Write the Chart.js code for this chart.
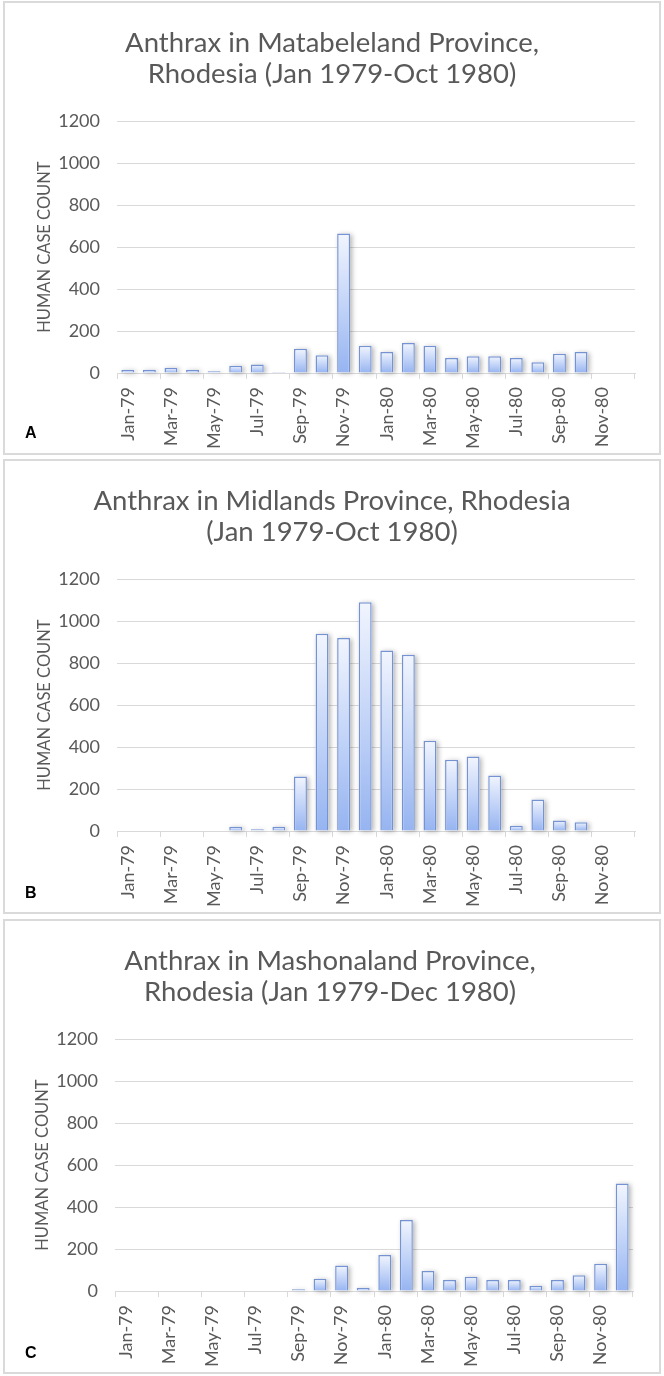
<!DOCTYPE html>
<html>
<head>
<meta charset="utf-8">
<script src="https://cdn.jsdelivr.net/npm/chart.js@4.4.0/dist/chart.umd.min.js"></script>
<style>
  html, body { margin: 0; padding: 0; background: #fff; }
  body { width: 664px; height: 1376px; position: relative; overflow: hidden; }
  .box { position: absolute; left: 3px; width: 658px; border: 2px solid #dadada; box-sizing: border-box; }
  .cw { position: absolute; width: 664px; height: 456px; }
  .lbl { position: absolute; left: 25px; font: bold 16px "Liberation Sans", Arial, sans-serif; color: #000; line-height: 18px; }
</style>
</head>
<body>
<div class="box" style="top:1px;height:454px;"></div>
<div class="box" style="top:459px;height:455px;"></div>
<div class="box" style="top:919px;height:455px;"></div>

<div class="cw" style="left:0;top:0;"><canvas id="chartA" width="664" height="456"></canvas></div>
<div class="cw" style="left:0;top:458px;"><canvas id="chartB" width="664" height="456"></canvas></div>
<div class="cw" style="left:-2px;top:918px;"><canvas id="chartC" width="664" height="456"></canvas></div>

<div class="lbl" style="top:424px;">A</div>
<div class="lbl" style="top:884px;">B</div>
<div class="lbl" style="top:1344px;">C</div>

<script>
// ---------- data ----------
const months = ['Jan-79','Feb-79','Mar-79','Apr-79','May-79','Jun-79','Jul-79','Aug-79','Sep-79','Oct-79','Nov-79','Dec-79',
                'Jan-80','Feb-80','Mar-80','Apr-80','May-80','Jun-80','Jul-80','Aug-80','Sep-80','Oct-80','Nov-80','Dec-80'];

const matabeleland = [15, 15, 25, 15, 8, 35, 40, 5, 115, 85, 665, 130,
                      100, 143, 130, 72, 80, 80, 72, 51, 92, 100, null, null];

const midlands = [0, 0, 0, 0, 0, 20, 8, 20, 260, 940, 920, 1090,
                  860, 840, 430, 340, 355, 265, 25, 150, 50, 42, null, null];

const mashonaland = [0, 0, 0, 0, 0, 0, 0, 0, 8, 58, 122, 15,
                     172, 338, 95, 52, 68, 52, 52, 25, 52, 75, 130, 512];

const titleA = ['Anthrax in Matabeleland Province,', 'Rhodesia (Jan 1979-Oct 1980)'];
const titleB = ['Anthrax in Midlands Province, Rhodesia', '(Jan 1979-Oct 1980)'];
const titleC = ['Anthrax in Mashonaland Province,', 'Rhodesia (Jan 1979-Dec 1980)'];

const yAxisTitle = 'HUMAN CASE COUNT';
const yMin = 0, yMax = 1200, yStep = 200;

// ---------- styling ----------
const TEXT = '#595959';
const GRID = '#d9d9d9';
const FONT = 'Lato';

function barGradient(ctx) {
  const chart = ctx.chart;
  if (!chart.chartArea || ctx.type !== 'data' || ctx.raw == null) return '#c3d4f6';
  const ys = chart.scales.y;
  const top = ys.getPixelForValue(ctx.raw);
  const bot = ys.getPixelForValue(0);
  if (bot - top < 1) return '#a9c3f4';
  const g = chart.ctx.createLinearGradient(0, top, 0, bot);
  g.addColorStop(0, '#f1f5fe');
  g.addColorStop(1, '#96b4f1');
  return g;
}

const shadowPlugin = {
  id: 'barShadow',
  beforeDatasetsDraw(chart) {
    const c = chart.ctx;
    const meta = chart.getDatasetMeta(0);
    c.save();
    c.shadowColor = 'rgba(0,0,0,0.3)';
    c.shadowBlur = 5;
    c.shadowOffsetX = 2;
    c.shadowOffsetY = 1;
    c.fillStyle = '#ffffff';
    meta.data.forEach(el => {
      const p = el.getProps(['x', 'y', 'base', 'width'], true);
      const h = p.base - p.y;
      if (!(h >= 1)) return;
      c.fillRect(p.x - p.width / 2, p.y, p.width, h);
    });
    c.restore();
  }
};

function makeChart(id, values, titleLines) {
  return new Chart(document.getElementById(id), {
    type: 'bar',
    data: {
      labels: months,
      datasets: [{
        data: values,
        backgroundColor: barGradient,
        borderColor: '#7593d2',
        borderWidth: 1.5,
        barPercentage: 0.6,
        categoryPercentage: 1.0
      }]
    },
    plugins: [shadowPlugin],
    options: {
      responsive: false,
      animation: false,
      layout: { padding: { left: 29, right: 29, top: 0, bottom: 0 } },
      plugins: {
        legend: { display: false },
        tooltip: { enabled: false },
        title: {
          display: true,
          text: titleLines,
          color: TEXT,
          font: { family: FONT, size: 27.5, weight: 'normal', lineHeight: 1.15 },
          padding: { top: 27, bottom: 31 }
        }
      },
      scales: {
        x: {
          grid: {
            drawOnChartArea: false,
            drawTicks: true,
            tickLength: 6,
            color: GRID,
            tickColor: (c) => (c.index === undefined || c.index % 2 === 0) ? GRID : 'rgba(0,0,0,0)'
          },
          border: { display: true, color: GRID, width: 1 },
          ticks: {
            autoSkip: false,
            minRotation: 90,
            maxRotation: 90,
            padding: 8,
            color: TEXT,
            font: { family: FONT, size: 18 },
            callback: (v, i) => (i % 2 === 0 ? months[i] : '')
          },
          afterFit: (s) => { s.height = 83; }
        },
        y: {
          min: yMin,
          max: yMax,
          ticks: {
            stepSize: yStep, padding: 17, color: TEXT, font: { family: FONT, size: 18 },
            callback: (v) => String(v)
          },
          grid: { color: GRID, drawTicks: false },
          border: { display: false },
          title: {
            display: true,
            text: yAxisTitle,
            color: TEXT,
            font: { family: FONT, size: 16.5 },
            padding: { top: 6, bottom: 0 }
          },
          afterFit: (s) => { s.width = 88; }
        }
      }
    }
  });
}

makeChart('chartA', matabeleland, titleA);
makeChart('chartB', midlands, titleB);
makeChart('chartC', mashonaland, titleC);
</script>
</body>
</html>
